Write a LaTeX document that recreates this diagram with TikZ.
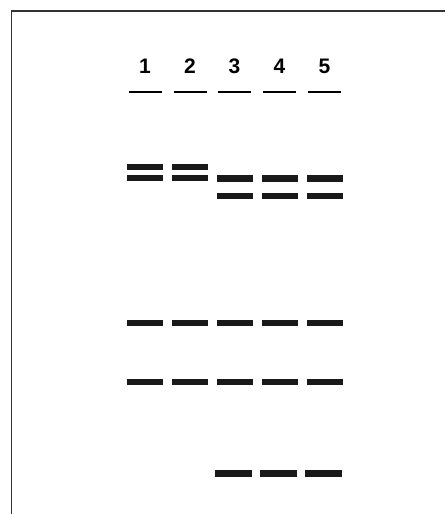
\documentclass[tikz,border=0pt]{standalone}
\usepackage{fontspec}
\setmainfont{Liberation Sans}
\begin{document}
\begin{tikzpicture}[x=1pt,y=-1pt,
  band/.style={fill=black!90,draw=none},
  lbl/.style={font=\fontsize{21}{23}\selectfont\bfseries,inner sep=0pt,anchor=base},
  wellline/.style={line width=1.4pt,black}]
\useasboundingbox (0,0) rectangle (445,514);
% frame
\coordinate (ftr) at (445,11);
\coordinate (ftl) at (11.5,11);
\coordinate (fbl) at (11.5,514);
\draw[line width=1.3pt,black!80] (ftr) -- (ftl) -- (fbl);
% lane labels and wells
\foreach \i/\x in {1/145,2/190,3/234.5,4/279.5,5/324.5}{
  \node[lbl] (l\i) at (\x,73) {\i};
  \coordinate (wa\i) at (\x-16.5,92);
  \coordinate (wb\i) at (\x+16.5,92);
  \draw[wellline] (wa\i) -- (wb\i);
}
% bands lanes 1,2 doublet high
\foreach \x in {145,190}{
  \fill[band] (\x-18.3,163.5) rectangle (\x+18.3,169.5);
  \fill[band] (\x-18.3,174.5) rectangle (\x+18.3,181);
}
% bands lanes 3-5 doublet lower
\foreach \x in {235,280,325}{
  \fill[band] (\x-18.3,175) rectangle (\x+18.3,181.5);
  \fill[band] (\x-18.3,192.5) rectangle (\x+18.3,199);
}
% common bands
\foreach \x in {145,190,235,280,325}{
  \fill[band] (\x-18.3,320) rectangle (\x+18.3,326.3);
  \fill[band] (\x-18.3,379) rectangle (\x+18.3,385.3);
}
% bottom bands lanes 3-5
\foreach \x in {233.5,278.5,323.5}{
  \fill[band] (\x-18.3,469.5) rectangle (\x+18.3,476.5);
}
\end{tikzpicture}
\end{document}
